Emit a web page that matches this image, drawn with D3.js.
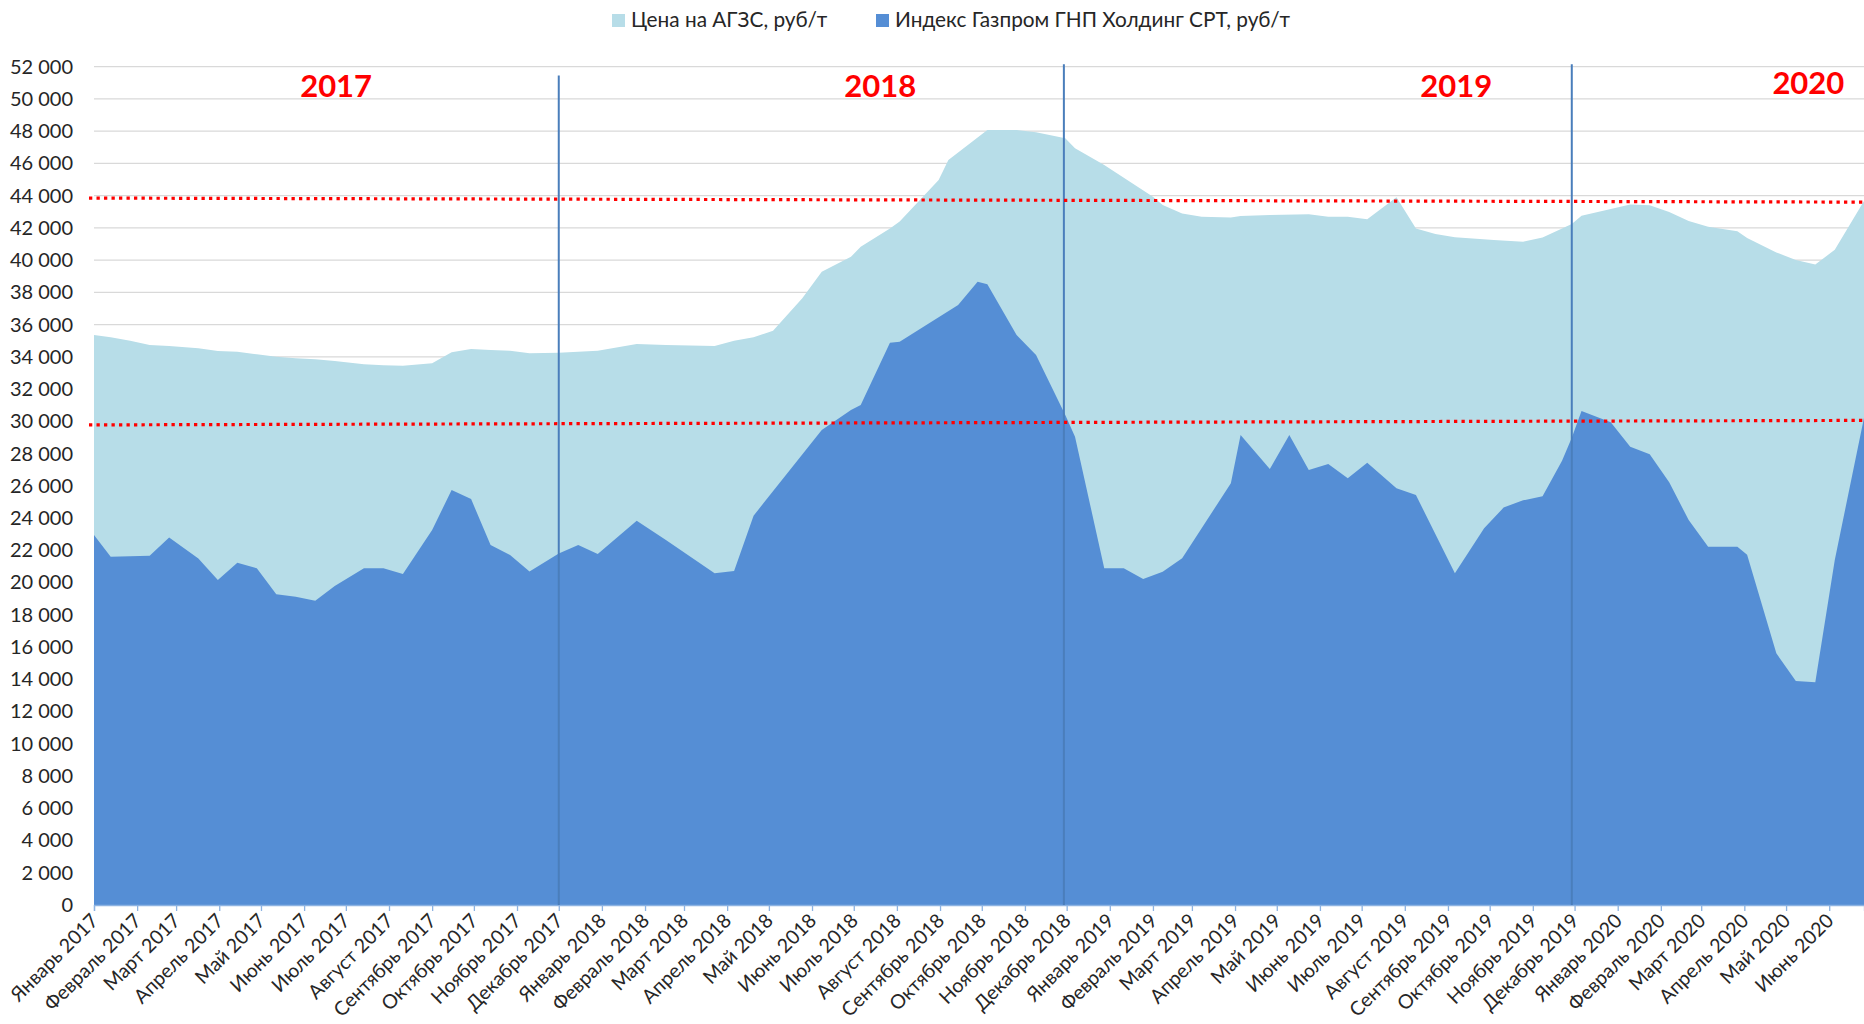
<!DOCTYPE html>
<html>
<head>
<meta charset="utf-8">
<script src="https://cdn.jsdelivr.net/npm/d3@7"></script>
<style>
  body { margin: 0; background: #fff; }
  svg text { font-family: Lato, "Open Sans", sans-serif; fill: #262626; }
</style>
</head>
<body>
<svg id="chart"></svg>
<script>
// month names for the x labels
var monthNames = ['Январь', 'Февраль', 'Март', 'Апрель', 'Май', 'Июнь',
  'Июль', 'Август', 'Сентябрь', 'Октябрь', 'Ноябрь', 'Декабрь'];

var seriesNames = ['Цена на АГЗС, руб/т', 'Индекс Газпром ГНП Холдинг СРТ, руб/т'];

// Цена на АГЗС (light area)
var priceDates = ['2017-01-01', '2017-01-13', '2017-01-27', '2017-02-10', '2017-02-24', '2017-03-17',
  '2017-03-31', '2017-04-14', '2017-04-28', '2017-05-12', '2017-05-26', '2017-06-09', '2017-06-23',
  '2017-07-14', '2017-07-28', '2017-08-11', '2017-09-01', '2017-09-15', '2017-09-29', '2017-10-13',
  '2017-10-27', '2017-11-10', '2017-12-01', '2017-12-15', '2017-12-29', '2018-01-26', '2018-02-16',
  '2018-03-23', '2018-04-06', '2018-04-20', '2018-05-04', '2018-05-25', '2018-06-08', '2018-06-29',
  '2018-07-06', '2018-07-27', '2018-08-03', '2018-08-31', '2018-09-07', '2018-10-05', '2018-10-26',
  '2018-11-09', '2018-11-30', '2018-12-07', '2018-12-28', '2019-02-01', '2019-02-08', '2019-02-22',
  '2019-03-08', '2019-03-29', '2019-04-05', '2019-04-26', '2019-05-24', '2019-06-07', '2019-06-21',
  '2019-07-05', '2019-07-26', '2019-08-09', '2019-08-23', '2019-09-06', '2019-10-04', '2019-10-25',
  '2019-11-08', '2019-11-22', '2019-11-29', '2019-12-06', '2019-12-27', '2020-01-10', '2020-01-24',
  '2020-02-07', '2020-02-21', '2020-03-06', '2020-03-27', '2020-04-03', '2020-04-24', '2020-05-08',
  '2020-05-22', '2020-06-05', '2020-06-26'];
var priceValues = [35360, 35210, 35000, 34740, 34680, 34530,
  34370, 34320, 34160, 34010, 33910, 33850, 33740,
  33540, 33480, 33450, 33600, 34280, 34490, 34430,
  34380, 34220, 34260, 34320, 34380, 34800, 34740,
  34680, 35000, 35210, 35620, 37630, 39280, 40210,
  40830, 41970, 42390, 44970, 46210, 48070, 48070,
  47930, 47560, 46940, 45900, 43940, 43420, 42900,
  42700, 42640, 42740, 42800, 42840, 42700, 42700,
  42530, 43900, 41970, 41620, 41415, 41250, 41145,
  41410, 41960, 42240, 42760, 43180, 43460, 43400,
  42990, 42430, 42070, 41800, 41380, 40480, 40010,
  39735, 40640, 43670];

// Индекс Газпром ГНП Холдинг СРТ (dark area)
var indexDates = ['2017-01-01', '2017-01-13', '2017-02-10', '2017-02-24', '2017-03-17', '2017-03-31',
  '2017-04-14', '2017-04-28', '2017-05-12', '2017-05-26', '2017-06-09', '2017-06-23', '2017-07-14',
  '2017-07-28', '2017-08-11', '2017-09-01', '2017-09-15', '2017-09-29', '2017-10-13', '2017-10-27',
  '2017-11-10', '2017-12-01', '2017-12-15', '2017-12-29', '2018-01-26', '2018-02-16', '2018-03-23',
  '2018-04-06', '2018-04-20', '2018-06-08', '2018-06-29', '2018-07-06', '2018-07-27', '2018-08-03',
  '2018-09-14', '2018-09-28', '2018-10-05', '2018-10-26', '2018-11-09', '2018-11-30', '2018-12-07',
  '2018-12-28', '2019-01-11', '2019-01-25', '2019-02-08', '2019-02-22', '2019-03-29', '2019-04-05',
  '2019-04-26', '2019-05-10', '2019-05-24', '2019-06-07', '2019-06-21', '2019-07-05', '2019-07-26',
  '2019-08-09', '2019-09-06', '2019-09-27', '2019-10-11', '2019-10-25', '2019-11-08', '2019-11-22',
  '2019-11-29', '2019-12-06', '2019-12-27', '2020-01-10', '2020-01-24', '2020-02-07', '2020-02-21',
  '2020-03-06', '2020-03-27', '2020-04-03', '2020-04-24', '2020-05-08', '2020-05-22', '2020-06-05',
  '2020-06-26'];
var indexValues = [22950, 21600, 21670, 22800, 21500, 20160,
  21230, 20890, 19270, 19120, 18880, 19790, 20890,
  20890, 20530, 23260, 25740, 25180, 22330, 21710,
  20680, 21800, 22330, 21770, 23840, 22640, 20575,
  20720, 24150, 29460, 30700, 31015, 34880, 34940,
  37220, 38660, 38500, 35360, 34120, 30400, 29050,
  20890, 20890, 20220, 20675, 21510, 26160, 29150,
  27045, 29150, 26980, 27355, 26470, 27440, 25850,
  25430, 20575, 23370, 24650, 25100, 25360, 27550,
  28980, 30637, 29950, 28430, 27965, 26225, 23880,
  22230, 22230, 21730, 15610, 13900, 13820, 21400,
  30220];

// year captions and where they sit on the time axis
var yearLabels = ['2017', '2018', '2019', '2020'];
var yearAnchors = ['2017-06-24', '2018-07-20', '2019-09-07', '2020-05-17'];

// vertical year separators
var separatorDates = ['2017-12-01', '2018-11-29', '2019-11-29'];
var separatorTops = [51450, 52150, 52150];

// red dotted levels: value at the left end, value at the right end
var levelStart = [43850, 29780];
var levelEnd = [43600, 30060];

(function() {
  var width = 1864, height = 1024;
  var plotLeft = 94, plotRight = 1864, plotTop = 66.7, plotBottom = 905;

  var parse = d3.utcParse('%Y-%m-%d');

  var priceData = priceDates.map(function(d, i) { return {date: parse(d), value: priceValues[i]}; });
  var indexData = indexDates.map(function(d, i) { return {date: parse(d), value: indexValues[i]}; });

  var svg = d3.select('#chart')
    .attr('width', width)
    .attr('height', height);

  // x is a time axis (days)
  var xScale = d3.scaleUtc()
    .domain([parse('2017-01-01'), parse('2020-06-26')])
    .range([plotLeft, plotRight]);

  var yScale = d3.scaleLinear()
    .domain([0, 52000])
    .range([plotBottom, plotTop]);

  var yTicks = d3.range(0, 52001, 2000);

  // grid
  svg.append('g').attr('class', 'y-grid')
    .selectAll('line').data(yTicks.filter(function(d) { return d > 0; }))
    .enter().append('line')
    .attr('x1', plotLeft).attr('x2', plotRight)
    .attr('y1', function(d) { return yScale(d); })
    .attr('y2', function(d) { return yScale(d); })
    .attr('stroke', '#d9d9d9')
    .attr('stroke-width', 1.3);

  // areas
  var area = d3.area()
    .x(function(d) { return xScale(d.date); })
    .y0(yScale(0))
    .y1(function(d) { return yScale(d.value); });

  svg.append('path').datum(priceData)
    .attr('d', area)
    .attr('fill', '#b7dde8');

  svg.append('path').datum(indexData)
    .attr('d', area)
    .attr('fill', '#558ed5');

  // y axis
  var yAxis = d3.axisLeft(yScale)
    .tickValues(yTicks)
    .tickSize(0)
    .tickPadding(21)
    .tickFormat(function(d) { return d3.format(',')(d).replace(/,/g, '\u00a0'); });

  var gy = svg.append('g')
    .attr('transform', 'translate(' + plotLeft + ',0)')
    .call(yAxis);
  gy.select('.domain').remove();
  gy.selectAll('text').style('font-size', '20px');

  // x axis, one tick per month
  var monthTicks = d3.utcMonth.range(parse('2017-01-01'), parse('2020-07-01'));
  var xAxis = d3.axisBottom(xScale)
    .tickValues(monthTicks)
    .tickSize(6)
    .tickFormat(function(d) { return monthNames[d.getUTCMonth()] + ' ' + d.getUTCFullYear(); });

  var gx = svg.append('g')
    .attr('transform', 'translate(0,' + plotBottom + ')')
    .call(xAxis);
  gx.select('.domain').attr('stroke', '#8db3e2').attr('stroke-width', 1.3);
  gx.selectAll('.tick line').attr('stroke', '#8db3e2').attr('stroke-width', 1.3);
  gx.selectAll('text')
    .style('font-size', '19.6px')
    .attr('text-anchor', 'end')
    .attr('dy', null)
    .attr('y', 0)
    .attr('transform', 'translate(5,17) rotate(-45)');

  // separators
  svg.append('g').selectAll('line').data(separatorDates)
    .enter().append('line')
    .attr('x1', function(d) { return xScale(parse(d)); })
    .attr('x2', function(d) { return xScale(parse(d)); })
    .attr('y1', function(d, i) { return yScale(separatorTops[i]); })
    .attr('y2', plotBottom)
    .attr('stroke', '#4a7ebb')
    .attr('stroke-width', 2);

  // red dotted levels
  svg.append('g').selectAll('line').data(levelStart)
    .enter().append('line')
    .attr('x1', plotLeft - 5)
    .attr('x2', plotRight)
    .attr('y1', function(d) { return yScale(d); })
    .attr('y2', function(d, i) { return yScale(levelEnd[i]); })
    .attr('stroke', '#ff0000')
    .attr('stroke-width', 3.2)
    .attr('stroke-dasharray', '3.3,4.2');

  // year captions
  svg.append('g').selectAll('text').data(yearLabels)
    .enter().append('text')
    .attr('x', function(d, i) { return xScale(parse(yearAnchors[i])); })
    .attr('y', function(d, i) { return i === 3 ? 94 : 97; })
    .attr('text-anchor', 'middle')
    .style('font-size', '31px')
    .style('font-weight', 'bold')
    .style('fill', '#ff0000')
    .text(function(d) { return d; });

  // legend
  var legend = svg.append('g').attr('class', 'legend');
  var legendColors = ['#b7dde8', '#558ed5'];
  var legendX = [612, 876];
  seriesNames.forEach(function(name, i) {
    legend.append('rect')
      .attr('x', legendX[i]).attr('y', 14)
      .attr('width', 13).attr('height', 13)
      .attr('fill', legendColors[i]);
    legend.append('text')
      .attr('x', legendX[i] + 19).attr('y', 27)
      .style('font-size', '20.8px')
      .text(name);
  });
})();
</script>
</body>
</html>
